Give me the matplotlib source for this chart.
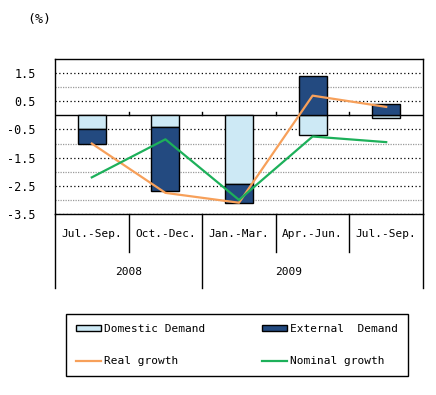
import matplotlib
matplotlib.use("Agg")
import matplotlib.pyplot as plt
from matplotlib.patches import Patch
from matplotlib.lines import Line2D
from matplotlib.transforms import blended_transform_factory

# data (percent contribution / growth, quarter on quarter)
quarters = ["Jul.-Sep.", "Oct.-Dec.", "Jan.-Mar.", "Apr.-Jun.", "Jul.-Sep."]
years = ["2008", "2009"]
domestic = [-0.5, -0.4, -2.45, -0.7, -0.1]
external = [-0.5, -2.3, -0.65, 1.4, 0.4]
real_growth = [-1.0, -2.75, -3.1, 0.7, 0.3]
nominal_growth = [-2.2, -0.85, -3.0, -0.75, -0.95]

plt.rcParams["font.family"] = ["DejaVu Sans Mono"]
plt.rcParams["font.size"] = 8

fig = plt.figure(figsize=(4.36, 3.95), dpi=100)
ax = fig.add_axes([55 / 436, 1 - 214 / 395, 368 / 436, 155 / 395])

x = list(range(len(quarters)))
# stack external on domestic when same sign, otherwise start from zero
ext_bottom = [d if (d < 0) == (e < 0) else 0 for d, e in zip(domestic, external)]

ax.bar(x, domestic, width=0.38, color="#CDE9F5", edgecolor="black", lw=1.0, zorder=3)
ax.bar(x, external, width=0.38, bottom=ext_bottom, color="#234A80",
       edgecolor="black", lw=1.0, zorder=3)
ax.plot(x, real_growth, color="#F7A05A", lw=1.6, zorder=4)
ax.plot(x, nominal_growth, color="#1DB05A", lw=1.6, zorder=4)

ax.set_xlim(-0.5, len(quarters) - 0.5)
ax.set_ylim(-3.5, 2.0)
ax.set_yticks([1.5, 0.5, -0.5, -1.5, -2.5, -3.5])
ax.set_yticklabels(["1.5", "0.5", "-0.5", "-1.5", "-2.5", "-3.5"], fontsize=8.5)
ax.set_yticks([1.0, -1.0, -2.0, -3.0], minor=True)
ax.tick_params(axis="y", which="both", length=0, pad=14)
ax.set_xticks([])
ax.yaxis.grid(True, which="major", color="black", ls=(0, (1, 2)), lw=0.9, zorder=1)
ax.yaxis.grid(True, which="minor", color="#9a9a9a", ls=(0, (1, 1)), lw=0.9, zorder=1)
ax.axhline(0, color="black", lw=1.0, zorder=2)
for b in [0.5, 1.5, 2.5, 3.5]:
    ax.plot([b, b], [0, 0.13], color="black", lw=1.0, zorder=2)
for s in ax.spines.values():
    s.set_linewidth(1.0)

# category table under the plot
tr = blended_transform_factory(ax.transData, ax.transAxes)
for b in [0.5, 2.5, 3.5]:
    ax.plot([b, b], [0, -0.245], color="black", lw=1.0, transform=tr, clip_on=False)
for b in [-0.5, 1.5, 4.5]:
    ax.plot([b, b], [0, -0.477], color="black", lw=1.0, transform=tr, clip_on=False)
for i, q in enumerate(quarters):
    ax.text(i, -0.129, q, ha="center", va="center", transform=tr, fontsize=8)
ax.text(0.5, -0.374, years[0], ha="center", va="center", transform=tr, fontsize=8)
ax.text(2.67, -0.374, years[1], ha="center", va="center", transform=tr, fontsize=8)

fig.text(39 / 436, 1 - 19 / 395, "(%)", ha="center", va="center", fontsize=9.5)

handles = [
    Patch(facecolor="#CDE9F5", edgecolor="black", lw=1.0, label="Domestic Demand"),
    Line2D([], [], color="#F7A05A", lw=1.6, label="Real growth"),
    Patch(facecolor="#234A80", edgecolor="black", lw=1.0, label="External  Demand"),
    Line2D([], [], color="#1DB05A", lw=1.6, label="Nominal growth"),
]
leg = fig.legend(handles=handles, ncol=2, loc="center",
                 bbox_to_anchor=(60 / 436, 1 - 378 / 395, 354 / 436, 66 / 395),
                 mode="expand", fancybox=False, edgecolor="black", framealpha=1,
                 handlelength=2.3, handleheight=0.5, handletextpad=0.3,
                 labelspacing=2.0, borderpad=0.9, fontsize=8)
leg.get_frame().set_linewidth(1.0)

fig.savefig("out.png", dpi=100)
